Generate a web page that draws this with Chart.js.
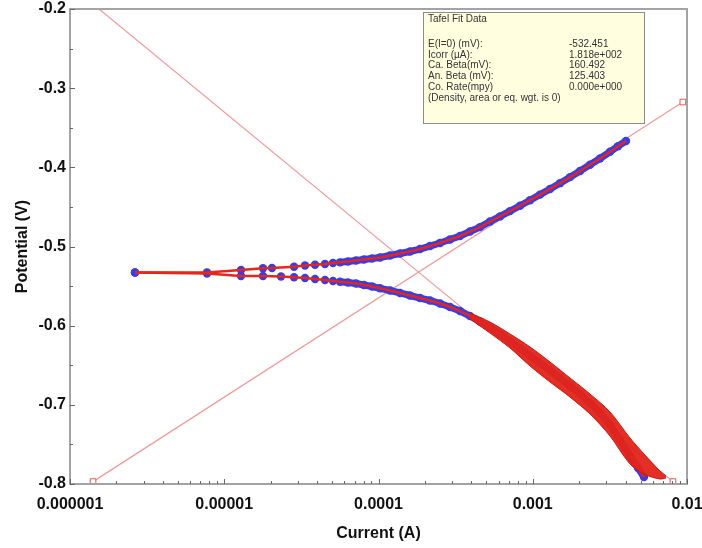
<!DOCTYPE html>
<html><head><meta charset="utf-8">
<script src="https://cdn.jsdelivr.net/npm/chart.js@4.4.0/dist/chart.umd.min.js"></script>
<style>html,body{margin:0;padding:0;background:#fff;}canvas{display:block;}</style>
</head><body>
<canvas id="c" width="702" height="548"></canvas>
<script>
// ---- data ----
const upperI = [2.638e-6, 7.73e-6, 1.284e-5, 1.783e-5, 2.040e-5, 2.834e-5, 3.338e-5, 3.877e-5, 4.498e-5, 5.07e-5, 5.63e-5, 6.34e-5, 7.15e-5, 8.05e-5, 9.08e-5, 1.023e-4, 1.188e-4, 1.379e-4, 1.601e-4, 1.858e-4, 2.157e-4, 2.504e-4, 2.907e-4, 3.376e-4, 3.919e-4, 4.550e-4, 5.283e-4, 6.133e-4, 7.120e-4, 8.268e-4, 9.60e-4, 1.114e-3, 1.294e-3, 1.502e-3, 1.744e-3, 2.025e-3, 2.350e-3, 2.729e-3, 3.168e-3, 3.570e-3, 4.022e-3];
const upperE = [-0.5328, -0.5328, -0.5297, -0.5275, -0.5272, -0.5255, -0.5240, -0.5230, -0.5221, -0.5208, -0.5200, -0.5189, -0.5177, -0.5164, -0.5152, -0.5139, -0.5114, -0.5088, -0.5063, -0.5032, -0.4994, -0.4956, -0.4912, -0.4867, -0.4811, -0.4755, -0.4685, -0.4620, -0.4553, -0.4485, -0.4415, -0.4345, -0.4273, -0.4200, -0.4124, -0.4046, -0.3967, -0.3888, -0.3804, -0.3733, -0.3667];
const lowerI = [2.638e-6, 7.73e-6, 1.284e-5, 1.783e-5, 2.333e-5, 2.834e-5, 3.338e-5, 3.877e-5, 4.498e-5, 5.07e-5, 5.63e-5, 6.34e-5, 7.15e-5, 8.05e-5, 9.08e-5, 1.023e-4, 1.188e-4, 1.379e-4, 1.601e-4, 1.858e-4, 2.157e-4, 2.504e-4, 2.907e-4, 3.376e-4, 3.919e-4, 4.550e-4, 5.283e-4, 6.133e-4, 7.120e-4, 8.268e-4, 9.60e-4, 1.114e-3, 1.294e-3, 1.502e-3, 1.744e-3, 2.025e-3, 2.350e-3, 2.729e-3, 3.168e-3, 3.680e-3, 4.270e-3, 4.812e-3, 5.262e-3];
const lowerE = [-0.5328, -0.5341, -0.5373, -0.5373, -0.5379, -0.5389, -0.5398, -0.5411, -0.5423, -0.5436, -0.5445, -0.5455, -0.5467, -0.5486, -0.5505, -0.5528, -0.5556, -0.5587, -0.5619, -0.5651, -0.5682, -0.5720, -0.5764, -0.5815, -0.5878, -0.5947, -0.6023, -0.6105, -0.6194, -0.6282, -0.6383, -0.6472, -0.6566, -0.6661, -0.6762, -0.6863, -0.6977, -0.7103, -0.7255, -0.7444, -0.7646, -0.7798, -0.7912];
// dense red band of the cathodic branch (upper / lower edge)
const bandI = [3.92e-4, 5.28e-4, 7.12e-4, 9.6e-4, 1.294e-3, 1.744e-3, 2.35e-3, 3.168e-3, 4.27e-3, 5.34e-3, 6.68e-3, 7.31e-3];
const bandTopE = [-0.5840, -0.5954, -0.6105, -0.6269, -0.6459, -0.6661, -0.6863, -0.7090, -0.7419, -0.7634, -0.7836, -0.7899];
const bandBottomE = [-0.5916, -0.6093, -0.6282, -0.6509, -0.6712, -0.6901, -0.7116, -0.7394, -0.7747, -0.7880, -0.7937, -0.7924];
// Tafel fit lines
const anodicFitI = [1.41e-6, 9.4e-3];
const anodicFitE = [-0.797, -0.3175];
const cathodicFitI = [1.2e-6, 8.11e-3];
const cathodicFitE = [-0.1825, -0.797];
// ticks
const xTickValues = [1e-6, 1e-5, 1e-4, 1e-3, 1e-2];
const xTickLabels = ['0.000001', '0.00001', '0.0001', '0.001', '0.01'];
const yTickValues = [-0.8, -0.7, -0.6, -0.5, -0.4, -0.3, -0.2];
const yTickLabels = ['-0.8', '-0.7', '-0.6', '-0.5', '-0.4', '-0.3', '-0.2'];
const yMinorValues = [-0.75, -0.65, -0.55, -0.45, -0.35, -0.25];
// fit box text
const fitTitle = 'Tafel Fit Data';
const fitLabels = ['E(I=0) (mV):', 'Icorr (\u00b5A):', 'Ca. Beta(mV):', 'An. Beta (mV):', 'Co. Rate(mpy)', '(Density, area or eq. wgt. is 0)'];
const fitValues = ['-532.451', '1.818e+002', '160.492', '125.403', '0.000e+000', ''];

// ---- build ----
const pts = (xs, ys) => xs.map((x, i) => ({x: x, y: ys[i]}));
const xMinor = [];
xTickValues.slice(0, -1).forEach(d => { for (let m = 2; m <= 9; m++) xMinor.push(d * m); });
const xAllTicks = xTickValues.concat(xMinor).sort((a, b) => a - b);
const yAllTicks = yTickValues.concat(yMinorValues).sort((a, b) => a - b);

const RED = '#e4261c', DARKRED = '#c81810', BLUE = '#3b3de0', FIT = '#f09a9a', FITSQ = '#e2564f';
const FONT = '"Liberation Sans", Arial, sans-serif';
const DENSE_FROM = 5.5e-5;
const denseSeg = { borderColor: c => (c.p0.parsed.x >= DENSE_FROM ? BLUE : 'rgba(0,0,0,0)') };

const framePlugin = {
  id: 'frame',
  afterDatasetsDraw(chart) {
    const {ctx, chartArea: a, scales} = chart;
    ctx.save();
    ctx.strokeStyle = '#a3a3a3';
    ctx.lineWidth = 2;
    ctx.strokeRect(a.left, a.top, a.right - a.left, a.bottom - a.top);
    ctx.strokeStyle = '#666';
    ctx.lineWidth = 1;
    ctx.beginPath();
    scales.x.ticks.forEach(t => {
      const px = Math.round(scales.x.getPixelForValue(t.value)) + 0.5;
      const len = xTickValues.indexOf(t.value) >= 0 ? 5 : 3;
      ctx.moveTo(px, a.bottom); ctx.lineTo(px, a.bottom - len);
    });
    scales.y.ticks.forEach(t => {
      const py = Math.round(scales.y.getPixelForValue(t.value)) + 0.5;
      const len = yTickValues.indexOf(t.value) >= 0 ? 5 : 3;
      ctx.moveTo(a.left, py); ctx.lineTo(a.left + len, py);
    });
    ctx.stroke();
    ctx.restore();
  }
};

const infoPlugin = {
  id: 'info',
  afterDraw(chart) {
    const ctx = chart.ctx;
    ctx.save();
    ctx.fillStyle = '#ffffe0';
    ctx.fillRect(423, 12, 221, 111);
    ctx.strokeStyle = '#8c8c8c';
    ctx.lineWidth = 1;
    ctx.strokeRect(423.5, 12.5, 221, 111);
    ctx.fillStyle = '#333';
    ctx.font = '10px ' + FONT;
    ctx.textBaseline = 'middle';
    ctx.textAlign = 'left';
    ctx.fillText(fitTitle, 428, 19);
    fitLabels.forEach((l, i) => {
      const y = 44 + i * 10.8;
      ctx.fillText(l, 428, y);
      if (fitValues[i]) ctx.fillText(fitValues[i], 569, y);
    });
    ctx.restore();
  }
};

const noPad = s => { s.paddingLeft = 0; s.paddingRight = 0; s.paddingTop = 0; s.paddingBottom = 0; };
const TICKFONT = { family: FONT, size: 16, weight: 'bold' };

new Chart(document.getElementById('c'), {
  type: 'line',
  data: {
    datasets: [
      { label: 'band top', data: pts(bandI, bandTopE), borderColor: DARKRED, borderWidth: 1, pointRadius: 0, fill: false, order: 0, tension: 0.3 },
      { label: 'band', data: pts(bandI, bandBottomE), borderColor: DARKRED, borderWidth: 1, pointRadius: 0, fill: '-1', backgroundColor: 'rgba(226,36,26,0.95)', order: 0, tension: 0.3 },
      { label: 'upper line', data: pts(upperI, upperE), borderColor: RED, borderWidth: 2.5, pointRadius: 0, fill: false, order: 1 },
      { label: 'lower line', data: pts(lowerI, lowerE), borderColor: RED, borderWidth: 2.5, pointRadius: 0, fill: false, order: 1 },
      { label: 'upper pts', data: pts(upperI, upperE), showLine: false, pointRadius: 4.2, pointBackgroundColor: BLUE, pointBorderColor: BLUE, pointBorderWidth: 0, order: 2 },
      { label: 'lower pts', data: pts(lowerI, lowerE), showLine: false, pointRadius: 4.2, pointBackgroundColor: BLUE, pointBorderColor: BLUE, pointBorderWidth: 0, order: 2 },
      { label: 'upper dense', data: pts(upperI, upperE), borderWidth: 7, borderColor: BLUE, segment: denseSeg, pointRadius: 0, fill: false, order: 2 },
      { label: 'lower dense', data: pts(lowerI, lowerE), borderWidth: 7, borderColor: BLUE, segment: denseSeg, pointRadius: 0, fill: false, order: 2 },
      { label: 'anodic fit', data: pts(anodicFitI, anodicFitE), borderColor: FIT, borderWidth: 1.2, pointStyle: 'rect', pointRadius: 4, pointBorderColor: FITSQ, pointBackgroundColor: '#fff', pointBorderWidth: 1, fill: false, order: 3 },
      { label: 'cathodic fit', data: pts(cathodicFitI, cathodicFitE), borderColor: FIT, borderWidth: 1.2, pointStyle: 'rect', pointRadius: 4, pointBorderColor: FITSQ, pointBackgroundColor: '#fff', pointBorderWidth: 1, fill: false, order: 3 }
    ]
  },
  options: {
    responsive: false,
    animation: false,
    layout: { padding: { top: 9, right: 15, left: 0, bottom: 0 } },
    plugins: { legend: { display: false }, tooltip: { enabled: false } },
    scales: {
      x: {
        type: 'logarithmic', min: 1e-6, max: 1e-2, position: 'bottom',
        afterFit(s) { s.height = 64; noPad(s); },
        afterBuildTicks(s) { s.ticks = xAllTicks.map(v => ({value: v})); },
        grid: { display: false, drawTicks: false }, border: { display: false },
        ticks: {
          autoSkip: false, maxRotation: 0, padding: 11, color: '#111', font: TICKFONT,
          callback(v) { const i = xTickValues.indexOf(v); return i >= 0 ? xTickLabels[i] : ''; }
        },
        title: { display: true, text: 'Current (A)', color: '#111', font: TICKFONT, padding: { top: 0, bottom: 5 } }
      },
      y: {
        type: 'linear', min: -0.8, max: -0.2,
        afterFit(s) { s.width = 70; noPad(s); },
        afterBuildTicks(s) { s.ticks = yAllTicks.map(v => ({value: v})); },
        grid: { display: false, drawTicks: false }, border: { display: false },
        ticks: {
          autoSkip: false, padding: 4, color: '#111', font: TICKFONT,
          callback(v) { const i = yTickValues.indexOf(v); return i >= 0 ? yTickLabels[i] : ''; }
        },
        title: { display: true, text: 'Potential (V)', color: '#111', font: TICKFONT, padding: { top: 13, bottom: 0 } }
      }
    }
  },
  plugins: [framePlugin, infoPlugin]
});
</script>
</body></html>
